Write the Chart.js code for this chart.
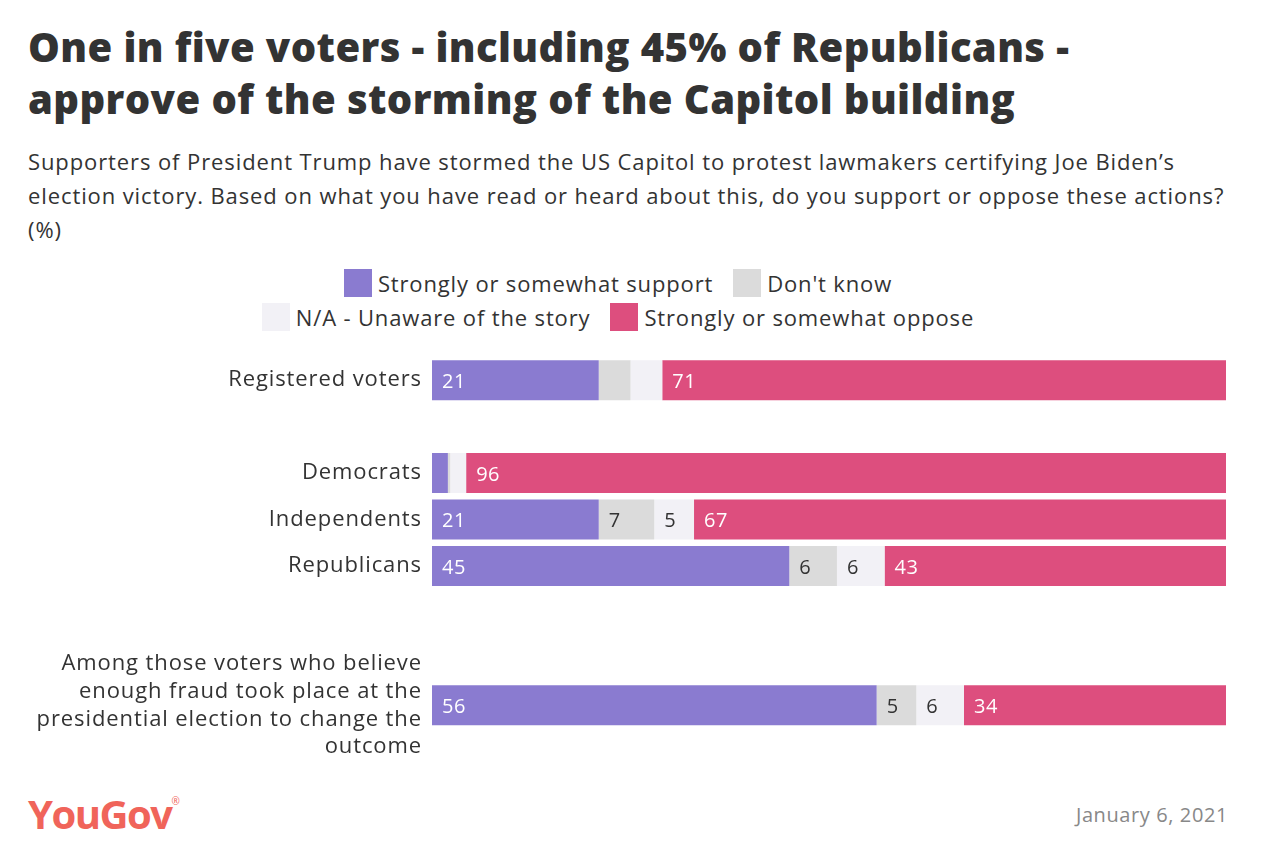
<!DOCTYPE html>
<html>
<head>
<meta charset="utf-8">
<script src="https://cdn.jsdelivr.net/npm/chart.js@4.4.1/dist/chart.umd.min.js"></script>
<style>
  body { margin: 0; width: 1262px; height: 868px; background: #fff; color: #333;
         font-family: "Open Sans", Lato, sans-serif; position: relative; overflow: hidden; }
  #titulo { position: absolute; left: 28px; top: 21px; margin: 0; font-size: 40px;
            font-weight: 800; line-height: 52px; letter-spacing: 0.4px; }
  #sub { position: absolute; left: 28px; top: 144px; font-size: 22px; line-height: 34px;
         letter-spacing: 0.9px; }
  #leyenda { position: absolute; left: 238px; top: 269px; width: 760px; display: flex;
             flex-wrap: wrap; justify-content: center; row-gap: 6px; }
  .item { display: flex; align-items: center; margin: 0 10px; font-size: 22px; height: 28px;
          letter-spacing: 0.85px; }
  .caja { width: 28px; height: 28px; margin-right: 6px; }
  #marco { position: absolute; left: 0; top: 320px; width: 1262px; height: 460px; }
  #logo { position: absolute; left: 28px; top: 786px; font-size: 40px; font-weight: 700;
          color: #f0645a; letter-spacing: -1.5px; }
  #logo sup { font-size: 10px; font-weight: 400; letter-spacing: 0; vertical-align: 24px; }
  #fecha { position: absolute; right: 34px; top: 801px; font-size: 20px; color: #888;
           letter-spacing: 0.6px; }
</style>
</head>
<body>
<h1 id="titulo">One in five voters - including 45% of Republicans -<br>approve of the storming of the Capitol building</h1>
<div id="sub">Supporters of President Trump have stormed the US Capitol to protest lawmakers certifying Joe Biden’s<br>election victory. Based on what you have read or heard about this, do you support or oppose these actions?<br>(%)</div>
<div id="leyenda"></div>
<div id="marco"><canvas id="grafico"></canvas></div>
<div id="logo">YouGov<sup>®</sup></div>
<div id="fecha">January 6, 2021</div>
<script>
var categorias = ["Registered voters", "", "Democrats", "Independents", "Republicans", "", "",
    ["Among those voters who believe", "enough fraud took place at the",
     "presidential election to change the", "outcome"]];
var apoyo = [21, null, 2, 21, 45, null, null, 56];
var noSabe = [4, null, 0.3, 7, 6, null, null, 5];
var noEnterado = [4, null, 2, 5, 6, null, null, 6];
var oposicion = [71, null, 96, 67, 43, null, null, 34];

// espaciado de letras un poco mas ancho para los textos del canvas
var espaciado = {
    id: 'espaciado',
    beforeDraw: function (chart) { chart.ctx.letterSpacing = '0.9px'; }
};

// numeros dentro de cada tramo
var etiquetas = {
    id: 'etiquetas',
    afterDatasetsDraw: function (chart) {
        var ctx = chart.ctx;
        ctx.save();
        ctx.font = '20px "Open Sans"';
        ctx.letterSpacing = '0.5px';
        ctx.textBaseline = 'middle';
        ctx.textAlign = 'left';
        chart.data.datasets.forEach(function (ds, i) {
            chart.getDatasetMeta(i).data.forEach(function (bar, j) {
                var v = ds.data[j];
                if (v == null || v < 5) return;
                ctx.fillStyle = ds.colorTexto;
                ctx.fillText(v, Math.min(bar.x, bar.base) + 10, bar.y + 2);
            });
        });
        ctx.restore();
    }
};

var grafico = new Chart(document.getElementById("grafico"), {
    type: 'bar',
    data: {
        labels: categorias,
        datasets: [
            { label: "Strongly or somewhat support", data: apoyo, backgroundColor: "#8a7bd0", colorTexto: "#fff" },
            { label: "Don't know", data: noSabe, backgroundColor: "#dbdbdb", colorTexto: "#333" },
            { label: "N/A - Unaware of the story", data: noEnterado, backgroundColor: "#f2f1f6", colorTexto: "#333" },
            { label: "Strongly or somewhat oppose", data: oposicion, backgroundColor: "#dd4e7e", colorTexto: "#fff" }
        ]
    },
    options: {
        indexAxis: 'y',
        responsive: true,
        maintainAspectRatio: false,
        animation: false,
        datasets: { bar: { barPercentage: 0.861, categoryPercentage: 1 } },
        layout: { padding: { top: 37, bottom: 51.5, right: 36, left: 0 } },
        plugins: { legend: { display: false }, tooltip: { enabled: false } },
        scales: {
            x: { stacked: true, display: false, min: 0, max: 100 },
            y: {
                stacked: true,
                grid: { display: false, drawTicks: false },
                border: { display: false },
                ticks: { color: "#333", padding: 10, autoSkip: false,
                         font: { family: "Open Sans", size: 22, lineHeight: 1.27 } },
                afterFit: function (s) { s.width = 432; s.paddingTop = 0; s.paddingBottom = 0; }
            }
        }
    },
    plugins: [espaciado, etiquetas]
});

// leyenda en html
var leyenda = document.getElementById("leyenda");
grafico.data.datasets.forEach(function (ds) {
    var item = document.createElement("div");
    item.className = "item";
    var caja = document.createElement("span");
    caja.className = "caja";
    caja.style.background = ds.backgroundColor;
    item.appendChild(caja);
    item.appendChild(document.createTextNode(ds.label));
    leyenda.appendChild(item);
});
</script>
</body>
</html>
